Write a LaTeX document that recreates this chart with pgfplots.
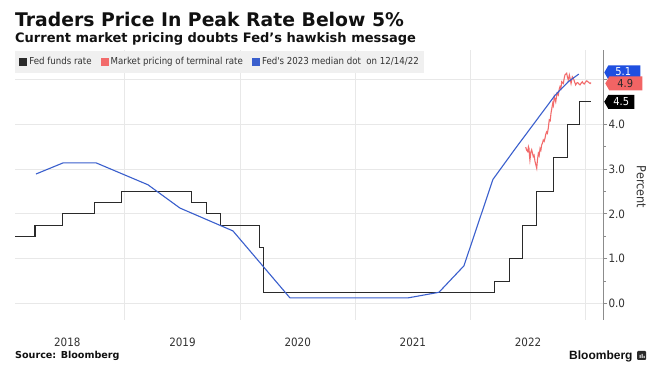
\documentclass[border=0pt]{standalone}
\usepackage{fontspec}
\usepackage{pgfplots}
\pgfplotsset{compat=1.18}
\setmainfont{DejaVu Sans}
\newfontfamily\cond{DejaVu Sans}[FakeStretch=0.9]
\newfontfamily\lib{Liberation Sans}
\newcommand{\sq}{\symbol{"27}}
\definecolor{fedblack}{HTML}{2A2A2A}
\definecolor{mktred}{HTML}{F26B6B}
\definecolor{dotblue}{HTML}{3A5FCD}
\definecolor{tagblue}{HTML}{1F4FE0}
\definecolor{tagred}{HTML}{F26464}
\definecolor{gridgray}{HTML}{E8E8E8}
\definecolor{axisgray}{HTML}{8C8C8C}
\definecolor{labgray}{HTML}{333333}
\definecolor{legbg}{HTML}{F0F0F0}
\definecolor{titleblack}{HTML}{111111}
\begin{document}
\begin{tikzpicture}
\path[use as bounding box, fill=white] (0pt,0pt) rectangle (655pt,371pt);
% x = years since 1 Jan 2018
\begin{axis}[
  at={(15pt,51pt)}, anchor=south west,
  scale only axis, width=588.3pt, height=270pt,
  xmin=0.046, xmax=5.153, ymin=-0.368, ymax=5.658,
  clip=false,
  axis x line*=bottom, axis y line*=right,
  x axis line style={draw=none},
  y axis line style={draw=axisgray, line width=1.5pt},
  xtick pos=bottom, ytick pos=right, yticklabel pos=right,
  xtick={0.5,1.5,2.5,3.5,4.5},
  xticklabels={2018,2019,2020,2021,2022},
  minor xtick={1,2,3,4,5},
  xminorgrids=true,
  minor x grid style={draw=gridgray, line width=0.8pt},
  major x tick style={draw=none}, minor x tick style={draw=none},
  xticklabel style={font=\cond\fontsize{11.5}{12}\selectfont, text=labgray, anchor=base, yshift=-23pt},
  ytick={0,1,2,3,4,5},
  yticklabels={0.0,1.0,2.0,3.0,4.0,{}},
  minor ytick={0.5,1.5,2.5,3.5,4.5},
  ymajorgrids=true,
  major y grid style={draw=gridgray, line width=0.8pt},
  y tick style={draw=axisgray, line width=1pt},
  tick align=outside, major tick length=4pt, minor tick length=2.5pt,
  yticklabel style={font=\cond\fontsize{11.5}{12}\selectfont, text=labgray, anchor=west, inner sep=0pt, xshift=1pt},
  ylabel={Percent},
  every axis y label/.style={at={(rel axis cs:1,0.5)}, xshift=38pt, yshift=-2pt, anchor=center, rotate=-90, font=\cond\fontsize{12.5}{13}\selectfont, text=labgray},
  legend image code/.code={\fill[#1] (0pt,-3.5pt) rectangle (7pt,3.5pt);},
  legend style={at={(0,1)}, anchor=north west, yshift=-0.7pt, fill=legbg, draw=none,
    font=\cond\fontsize{9.6}{11}\selectfont, text=labgray, legend columns=-1,
    inner xsep=4pt, inner ysep=5.5pt, nodes={inner sep=1pt},
    /tikz/every odd column/.append style={column sep=1pt},
    /tikz/every even column/.append style={column sep=8pt}},
  legend cell align=left,
]
\addplot[color=fedblack, line width=1.1pt] coordinates {
(0.046,1.5)(0.22,1.5)(0.22,1.75)(0.46,1.75)(0.46,2.0)(0.74,2.0)(0.74,2.25)(0.97,2.25)(0.97,2.5)(1.58,2.5)(1.58,2.25)(1.71,2.25)(1.71,2.0)(1.83,2.0)(1.83,1.75)(2.17,1.75)(2.17,1.25)(2.2,1.25)(2.2,0.25)(4.205,0.25)(4.205,0.5)(4.34,0.5)(4.34,1.0)(4.455,1.0)(4.455,1.75)(4.57,1.75)(4.57,2.5)(4.72,2.5)(4.72,3.25)(4.84,3.25)(4.84,4.0)(4.95,4.0)(4.95,4.5)(5.046,4.5)};
\addlegendentry{Fed funds rate}
\addplot[color=mktred, line width=1.1pt] coordinates {
(4.479,3.49)(4.488,3.42)(4.497,3.39)(4.503,3.50)(4.508,3.46)(4.512,3.30)(4.516,3.20)(4.524,3.38)(4.531,3.43)(4.538,3.36)(4.545,3.28)(4.552,3.31)(4.560,3.17)(4.567,3.10)(4.575,3.02)(4.582,3.22)(4.589,3.35)(4.596,3.30)(4.604,3.46)(4.611,3.42)(4.618,3.54)(4.625,3.58)(4.632,3.65)(4.640,3.62)(4.647,3.69)(4.654,3.78)(4.661,3.83)(4.668,3.80)(4.675,3.91)(4.684,4.10)(4.692,4.08)(4.699,4.25)(4.706,4.35)(4.714,4.47)(4.720,4.42)(4.727,4.62)(4.740,4.50)(4.751,4.69)(4.762,4.65)(4.770,4.78)(4.777,4.84)(4.785,4.80)(4.792,4.95)(4.806,4.91)(4.813,5.02)(4.820,5.10)(4.835,5.14)(4.842,5.05)(4.849,4.99)(4.858,5.10)(4.865,5.02)(4.873,4.91)(4.884,5.06)(4.891,5.03)(4.898,4.99)(4.906,4.93)(4.913,4.88)(4.922,4.92)(4.931,4.93)(4.941,4.90)(4.951,4.88)(4.961,4.92)(4.971,4.95)(4.980,4.91)(4.988,4.90)(4.998,4.94)(5.009,4.97)(5.019,4.95)(5.029,4.93)(5.038,4.91)(5.046,4.93)};
\addlegendentry{Market pricing of terminal rate}
\addplot[color=dotblue, line width=1.1pt] coordinates {
(0.228,2.89)(0.465,3.14)(0.749,3.14)(1.20,2.65)(1.478,2.13)(1.938,1.62)(2.433,0.125)(3.457,0.125)(3.726,0.25)(3.943,0.84)(4.195,2.77)(4.387,3.45)(4.561,4.05)(4.735,4.65)(4.849,4.95)(4.94,5.12)};
\addlegendentry{Fed\sq s 2023 median dot \ on 12/14/22}
% value tags on the right axis
\coordinate (tb) at (axis cs:5.153,5.1);
\coordinate (tr) at (axis cs:5.153,4.9);
\coordinate (tk) at (axis cs:5.153,4.5);
\end{axis}
\fill[tagblue] ([xshift=1pt,yshift=2.5pt]tb) -- ++(4pt,7pt) -- ++(32pt,0pt) -- ++(0pt,-14pt) -- ++(-32pt,0pt) -- cycle;
\node[font=\cond\fontsize{11}{12}\selectfont, text=white, inner sep=0pt] at ([xshift=20pt,yshift=3pt]tb) {5.1};
\fill[tagred] ([xshift=2pt,yshift=0.5pt]tr) -- ++(4pt,7pt) -- ++(33pt,0pt) -- ++(0pt,-14pt) -- ++(-33pt,0pt) -- cycle;
\node[font=\cond\fontsize{11}{12}\selectfont, text=fedblack, inner sep=0pt] at ([xshift=22pt,yshift=0.5pt]tr) {4.9};
\fill[black] ([xshift=1pt]tk) -- ++(4pt,7pt) -- ++(26pt,0pt) -- ++(0pt,-14pt) -- ++(-26pt,0pt) -- cycle;
\node[font=\cond\fontsize{11}{12}\selectfont, text=white, inner sep=0pt] at ([xshift=18pt]tk) {4.5};
\node[anchor=base west, inner sep=0pt, text=titleblack, font=\fontsize{18.8}{20}\selectfont\bfseries] at (15pt,344.3pt) {Traders Price In Peak Rate Below 5\%};
\node[anchor=base west, inner sep=0pt, text=titleblack, font=\fontsize{13}{14}\selectfont\bfseries] at (15pt,328.7pt) {Current market pricing doubts Fed\sq s hawkish message};
\node[anchor=base west, inner sep=0pt, text=titleblack, font=\fontsize{9.6}{11}\selectfont\bfseries] at (15pt,12.5pt) {Source: Bloomberg};
\node[anchor=base west, inner sep=0pt, text=titleblack, font=\lib\fontsize{12}{13}\selectfont\bfseries] at (569pt,11.7pt) {Bloomberg};
\fill[fedblack, rounded corners=1pt] (637pt,11pt) rectangle (646pt,20pt);
\fill[white] (639.5pt,13pt) rectangle (640.5pt,16pt) (641.5pt,13pt) rectangle (642.5pt,17pt) (643.5pt,13pt) rectangle (644.5pt,15pt);
\end{tikzpicture}
\end{document}
